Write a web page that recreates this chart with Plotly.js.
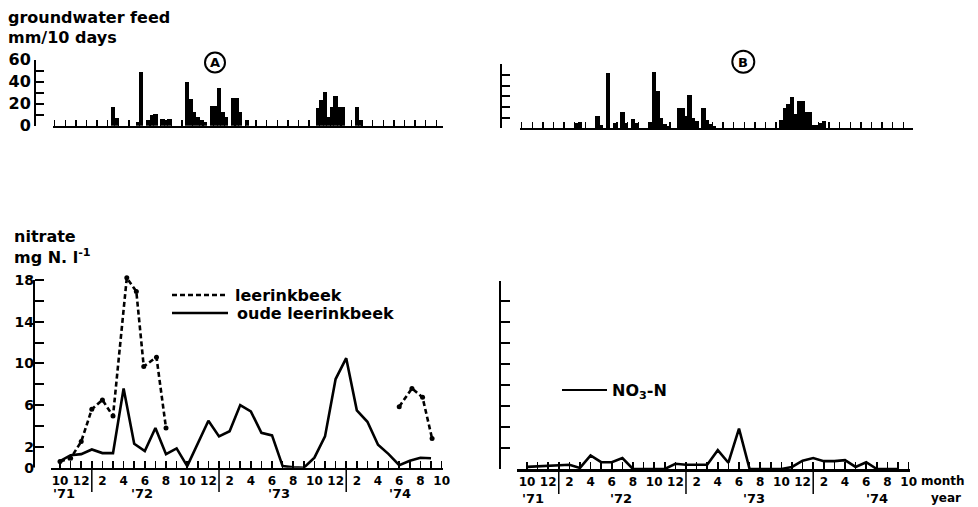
<!DOCTYPE html>
<html><head><meta charset="utf-8">
<script src="https://cdn.plot.ly/plotly-3.0.1.min.js"></script>
<style>html,body{margin:0;padding:0;background:#fff}#chart{width:978px;height:507px}</style>
</head><body><div id="chart"></div>
<script>
// ---------- DATA ----------
// groundwater feed, mm per 10 days; decade index counted from 1-10 Oct 1971 (0,1,2 = Oct '71)
const feedA_decade = [16,17,23,24,26,27,28,30,31,32,37,38,39,40,41,42,44,45,46,47,48,50,51,52,54,74,75,76,77,78,79,80,81,85,86];
const feedA_mm     = [17, 7, 3,49, 5,10,11, 6, 5, 6,40,24,12, 8, 5, 3,18,18,34,12, 8,25,25,12, 5,16,23,31, 8,17,27,17,17,17, 5];
const feedB_decade = [15,16,21,22,24,26,28,29,31,32,36,37,38,39,40,41,44,45,46,47,48,49,51,52,53,54,73,74,75,76,77,78,79,80,81,82,83,84,85];
const feedB_mm     = [ 5, 6,12, 3,52, 5,15, 5, 9, 5, 6,53,35,10, 4, 2,19,19,12,31,10, 7,19, 8, 4, 2, 8,19,23,29,13,26,26,15,15, 3, 3, 5, 7];

// monthly nitrate samples, mg N/l, Oct 1971 ... Sep 1974 (mid-month)
const months = ['1971-10','1971-11','1971-12','1972-01','1972-02','1972-03','1972-04','1972-05','1972-06','1972-07','1972-08','1972-09',
                '1972-10','1972-11','1972-12','1973-01','1973-02','1973-03','1973-04','1973-05','1973-06','1973-07','1973-08','1973-09',
                '1973-10','1973-11','1973-12','1974-01','1974-02','1974-03','1974-04','1974-05','1974-06','1974-07','1974-08','1974-09'];
const oudeLeerinkbeek = [0.64,1.2,1.3,1.75,1.4,1.4,7.6,2.3,1.6,3.8,1.3,1.85,0.15,2.3,4.5,3.0,3.5,6.0,5.4,3.35,3.1,0.15,0.03,0,0.96,3.0,8.5,10.5,5.5,4.4,2.2,1.3,0.25,0.67,0.96,0.9];
const no3nB          = [0.2,0.25,0.3,0.4,0.4,0.1,1.3,0.65,0.65,1.05,0,0,0,0,0.5,0.4,0.4,0.4,1.8,0.6,3.85,0,0,0,0,0.2,0.8,1.05,0.75,0.75,0.85,0.2,0.65,0,0,0];

// leerinkbeek samples (irregular dates)
const leerDates  = ['1971-10-16','1971-11-16','1971-12-16','1972-01-16','1972-02-16','1972-03-16','1972-04-25','1972-05-22','1972-06-13','1972-07-19','1972-08-16',null,
                    '1974-06-16','1974-07-22','1974-08-22','1974-09-19'];
const leerValues = [0.6,0.9,2.5,5.6,6.5,4.95,18.2,16.9,9.7,10.6,3.8,null,5.85,7.6,6.75,2.8];

// tick labels
const monthTickLabels = ['10','','12','','2','','4','','6','','8','','10','','12','','2','','4','','6','','8','','10','','12','','2','','4','','6','','8','','10'];
const feedTickVals = [0,10,20,30,40,50,60];
const feedTickText = ['0','','20','','40','','60'];
const nitTickVals = [0,2,4,6,8,10,12,14,16,18];
const nitTickText = ['0','2','','6','','10','','14','','18'];
const yearLabels = ["'71","'72","'73","'74"];

// ---------- HELPERS ----------
const W = 978, H = 507;
const px = x => x / W;
const py = y => 1 - y / H;
// months since 1 Oct 1971
function monthPos(d) { const p = d.split('-').map(Number); return (p[0]-1971)*12 + (p[1]-10) + ((p[2]||16)-1)/30; }
const FONT = 'DejaVu Sans';
const BLACK = '#000';

const decadeX = t => (t + 0.5) / 3;
const monthX = months.map(m => monthPos(m + '-16'));
const leerX = leerDates.map(d => d === null ? null : monthPos(d));
const monthTickVals = monthTickLabels.map((_, i) => i + 0.5);
const boundaryTicks = Array.from({length: 37}, (_, i) => i);

const traces = [
  {type:'bar', x: feedA_decade.map(decadeX), y: feedA_mm, width: 1.25/3, marker:{color:BLACK, line:{width:0}}, xaxis:'x', yaxis:'y', hoverinfo:'skip'},
  {type:'bar', x: feedB_decade.map(decadeX), y: feedB_mm, width: 1.25/3, marker:{color:BLACK, line:{width:0}}, xaxis:'x2', yaxis:'y2', hoverinfo:'skip'},
  {type:'scatter', mode:'lines', x: monthX, y: oudeLeerinkbeek, line:{color:BLACK, width:2.6}, xaxis:'x3', yaxis:'y3', cliponaxis:false},
  {type:'scatter', mode:'lines+markers', x: leerX, y: leerValues, connectgaps:false, line:{color:BLACK, width:2.6, dash:'5px,3px'}, marker:{color:BLACK, size:5}, xaxis:'x3', yaxis:'y3', cliponaxis:false},
  {type:'scatter', mode:'lines', x: monthX, y: no3nB, line:{color:BLACK, width:2.6}, xaxis:'x4', yaxis:'y4', cliponaxis:false}
];

const xBase = {showgrid:false, zeroline:false, showline:true, linecolor:BLACK, ticks:'inside', tickcolor:BLACK, fixedrange:true};
const yBase = {showgrid:false, zeroline:false, showline:true, linecolor:BLACK, ticks:'inside', tickcolor:BLACK, fixedrange:true, anchor:'free'};

const layout = {
  width: W, height: H, margin:{l:0,r:0,t:0,b:0}, paper_bgcolor:'#fff', plot_bgcolor:'rgba(0,0,0,0)',
  showlegend:false, bargap:0,
  font:{family:FONT, color:BLACK, size:14, weight:'bold'},
  xaxis: {...xBase, domain:[px(53), px(443)], range:[-0.16, 36.63], anchor:'y', tickvals:boundaryTicks, ticklen:6, tickwidth:1.5, linewidth:2, showticklabels:false},
  yaxis: {...yBase, domain:[py(125.7), py(59.5)], range:[0,60], position:px(35), tickvals:feedTickVals, ticktext:feedTickText, ticklen:8, tickwidth:2, linewidth:2, tickfont:{size:16}},
  xaxis2:{...xBase, domain:[px(520), px(913)], range:[-0.16, 36.92], anchor:'y2', tickvals:boundaryTicks, ticklen:6, tickwidth:1.5, linewidth:2, showticklabels:false},
  yaxis2:{...yBase, domain:[py(128.3), py(64.3)], range:[0,60], position:px(501), tickvals:feedTickVals, ticklen:8, tickwidth:2, linewidth:2, showticklabels:false},
  xaxis3:{...xBase, domain:[px(51), px(443)], range:[-0.35, 36.63], anchor:'y3', tickvals:monthTickVals, ticktext:monthTickLabels, ticklen:7, tickwidth:1.5, linewidth:2.5, tickfont:{size:12}},
  yaxis3:{...yBase, domain:[py(467.7), py(273.7)], range:[0,18.6], position:px(34), showline:false, tickvals:nitTickVals, ticktext:nitTickText, ticklen:9, tickwidth:2, tickfont:{size:14}},
  xaxis4:{...xBase, domain:[px(517), px(910)], range:[-0.44, 36.63], anchor:'y4', tickvals:monthTickVals, ticktext:monthTickLabels, ticklen:7, tickwidth:1.5, linewidth:2.5, tickfont:{size:12}},
  yaxis4:{...yBase, domain:[py(469), py(280.5)], range:[0,18], position:px(500), tickvals:nitTickVals, ticklen:9, tickwidth:2, linewidth:2, showticklabels:false},
  shapes: [], annotations: []
};

const S = layout.shapes, A = layout.annotations;
const ann = (text, x, y, size, xanchor='left', extra={}) => A.push(Object.assign({text, x:px(x), y:py(y), xref:'paper', yref:'paper', xanchor, yanchor:'middle', showarrow:false, font:{size}}, extra));

// titles
ann('groundwater feed', 6, 18, 16);
ann('mm/10 days', 6, 37, 16);
ann('nitrate', 12, 237, 16);
ann('mg N. l<sup>-1</sup>', 12, 256, 16);

// circled panel letters
[['A',215,62.5,10],['B',743.3,61.7,11]].forEach(([t,cx,cy,r]) => {
  S.push({type:'circle', xref:'paper', yref:'paper', x0:px(cx-r), x1:px(cx+r), y0:py(cy+r), y1:py(cy-r), line:{color:BLACK, width:2}});
  ann(t, cx, cy+0.5, 13, 'center');
});

// y axis line of the left nitrate panel (0..18)
S.push({type:'line', xref:'paper', yref:'y3', x0:px(34), x1:px(34), y0:0, y1:18, line:{color:BLACK, width:2}});

// year dividers
[3.5, 15.5, 27.5].forEach(u => {
  S.push({type:'line', xref:'x3', yref:'paper', x0:u, x1:u, y0:py(468), y1:py(492), line:{color:BLACK, width:1.5}});
  S.push({type:'line', xref:'x4', yref:'paper', x0:u, x1:u, y0:py(469), y1:py(494), line:{color:BLACK, width:1.5}});
});

// year labels
[64,142,279,400].forEach((x,i) => ann(yearLabels[i], x, 493, 13, 'center'));
[533,621,754,877].forEach((x,i) => ann(yearLabels[i], x, 498, 13, 'center'));
ann('month', 919, 481, 12, 'left');
ann('year', 929, 498, 12, 'left');

// legends
S.push({type:'line', xref:'paper', yref:'paper', x0:px(172), x1:px(228), y0:py(295), y1:py(295), line:{color:BLACK, width:2.4, dash:'5px,3px'}});
S.push({type:'line', xref:'paper', yref:'paper', x0:px(172), x1:px(228), y0:py(313), y1:py(313), line:{color:BLACK, width:2.4}});
ann('leerinkbeek', 233, 295, 16);
ann('oude leerinkbeek', 235, 313, 16);
S.push({type:'line', xref:'paper', yref:'paper', x0:px(562), x1:px(607), y0:py(390), y1:py(390), line:{color:BLACK, width:2.2}});
ann('NO<sub>3</sub>-N', 610, 391, 16);

Plotly.newPlot('chart', traces, layout, {staticPlot:true, displayModeBar:false});
</script></body></html>
